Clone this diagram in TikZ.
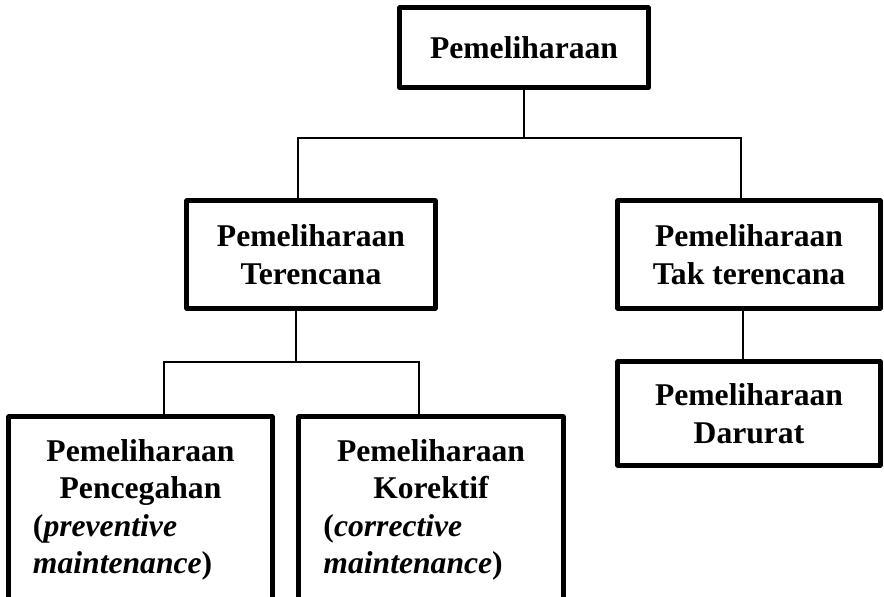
\documentclass[tikz,border=0pt]{standalone}
\usepackage{fontspec}
\setmainfont{Liberation Serif}

\begin{document}
\begin{tikzpicture}[x=0.03cm, y=-0.03cm,
    box/.style={draw, line width=0.15cm, line join=round, align=center, inner sep=0pt,
        font=\fontsize{27}{32}\selectfont\bfseries},
    link/.style={line width=1.3pt}]
        \clip (0,0) rectangle (884,597);

        \node[box, minimum width=7.44cm, minimum height=2.4cm] (root) at (524, 48) {Pemeliharaan};
        \node[box, minimum width=7.44cm, minimum height=3.21cm] (plan) at (311, 254.5) {Pemeliharaan\\Terencana};
        \node[box, minimum width=7.86cm, minimum height=3.21cm] (unplan) at (749, 254.5) {Pemeliharaan\\Tak terencana};
        \node[box, minimum width=7.86cm, minimum height=3.09cm] (emerg) at (749, 413.5) {Pemeliharaan\\Darurat};
        \node[box, minimum width=7.89cm, minimum height=5.58cm, text width=6.45cm, align=left] (prev) at (140.5, 510)
            {{\centering Pemeliharaan\\Pencegahan\par}(\textit{preventive}\\\textit{maintenance})};
        \node[box, minimum width=7.92cm, minimum height=5.58cm, text width=6.45cm, align=left] (corr) at (431, 510)
            {{\centering Pemeliharaan\\Korektif\par}(\textit{corrective}\\\textit{maintenance})};

        \coordinate (bL) at (298, 138);
        \coordinate (bR) at (741, 138);
        \coordinate (cL) at (164, 362);
        \coordinate (cR) at (419, 362);

        \draw[link] (root.south) -- (root.south |- bL);
        \draw[link] (plan.north -| bL) -- (bL) -- (bR) -- (unplan.north -| bR);
        \draw[link] (plan.south -| 296, 0) -- (296, 362);
        \draw[link] (prev.north -| cL) -- (cL) -- (cR) -- (corr.north -| cR);
        \draw[link] (unplan.south -| 743, 0) -- (emerg.north -| 743, 0);
    \end{tikzpicture}
\end{document}
